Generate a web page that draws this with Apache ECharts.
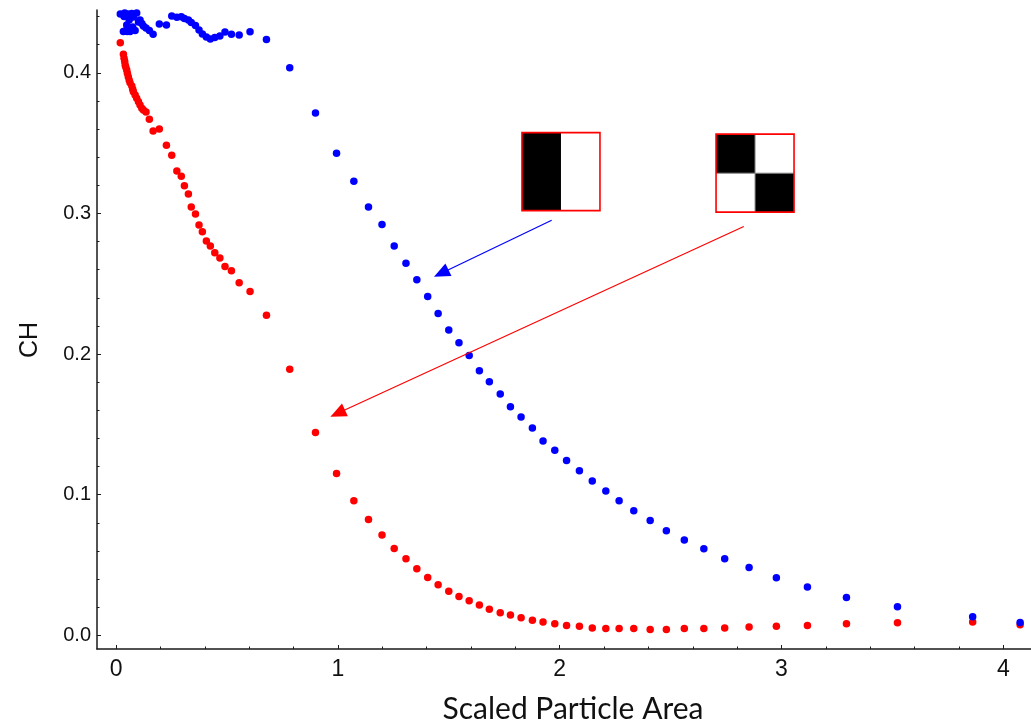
<!DOCTYPE html>
<html>
<head>
<meta charset="utf-8">
<script src="https://cdn.jsdelivr.net/npm/echarts@6/dist/echarts.min.js"></script>
<style>
  html, body { margin: 0; padding: 0; background: #ffffff; }
  #chart { width: 1031px; height: 725px; }
</style>
</head>
<body>
<div id="chart"></div>
<script>
// Scaled particle area, shared by both measurement series
const area = [
  0.019, 0.033, 0.036, 0.039, 0.041, 0.044, 0.048, 0.051, 0.055, 0.059,
  0.063, 0.071, 0.075, 0.078, 0.086, 0.093, 0.101, 0.108, 0.116, 0.123,
  0.135, 0.150, 0.167, 0.195, 0.227, 0.251, 0.274, 0.294, 0.308, 0.326,
  0.339, 0.358, 0.374, 0.389, 0.407, 0.425, 0.445, 0.468, 0.491, 0.520,
  0.555, 0.604, 0.678, 0.783, 0.899, 0.994, 1.072, 1.138, 1.199, 1.254,
  1.307, 1.356, 1.405, 1.452, 1.500, 1.546, 1.592, 1.638, 1.683, 1.732,
  1.778, 1.826, 1.877, 1.925, 1.978, 2.031, 2.089, 2.147, 2.208, 2.268,
  2.334, 2.408, 2.481, 2.562, 2.650, 2.744, 2.854, 2.977, 3.117, 3.293,
  3.523, 3.862, 4.076
];

// CH for the two-stripe pattern (blue)
const chStripe = [
  0.4419, 0.4294, 0.4401, 0.4426, 0.4298, 0.4408, 0.4340, 0.4294, 0.4419, 0.4376,
  0.4294, 0.4422, 0.4326, 0.4397, 0.4301, 0.4426, 0.4362, 0.4376, 0.4351, 0.4333,
  0.4319, 0.4301, 0.4274, 0.4348, 0.4340, 0.4404, 0.4395, 0.4399, 0.4387, 0.4376,
  0.4358, 0.4337, 0.4305, 0.4277, 0.4255, 0.4241, 0.4252, 0.4262, 0.4291, 0.4274,
  0.4269, 0.4293, 0.4237, 0.4037, 0.3715, 0.3429, 0.3230, 0.3047, 0.2921, 0.2768,
  0.2647, 0.2528, 0.2409, 0.2289, 0.2171, 0.2080, 0.1990, 0.1881, 0.1803, 0.1716,
  0.1625, 0.1552, 0.1474, 0.1382, 0.1316, 0.1244, 0.1171, 0.1097, 0.1026, 0.0957,
  0.0886, 0.0817, 0.0744, 0.0678, 0.0616, 0.0545, 0.0483, 0.0410, 0.0344, 0.0270,
  0.0204, 0.0133, 0.0092
];

// CH for the checkerboard pattern (red)
const chChecker = [
  0.4215, 0.4132, 0.4104, 0.4080, 0.4056, 0.4040, 0.4021, 0.3997, 0.3973, 0.3950,
  0.3930, 0.3907, 0.3883, 0.3866, 0.3843, 0.3819, 0.3795, 0.3772, 0.3748, 0.3736,
  0.3722, 0.3670, 0.3587, 0.3601, 0.3485, 0.3414, 0.3303, 0.3265, 0.3198, 0.3139,
  0.3047, 0.2997, 0.2919, 0.2871, 0.2805, 0.2768, 0.2720, 0.2684, 0.2623, 0.2592,
  0.2507, 0.2445, 0.2277, 0.1893, 0.1443, 0.1151, 0.0957, 0.0824, 0.0714, 0.0618,
  0.0545, 0.0474, 0.0412, 0.0360, 0.0313, 0.0277, 0.0247, 0.0216, 0.0185, 0.0161,
  0.0145, 0.0126, 0.0107, 0.0095, 0.0083, 0.0071, 0.0064, 0.0053, 0.0048, 0.0048,
  0.0048, 0.0041, 0.0041, 0.0048, 0.0048, 0.0053, 0.0060, 0.0064, 0.0071, 0.0083,
  0.0090, 0.0095, 0.0076
];

// Axis ticks
const xMajorTicks = [0, 1, 2, 3, 4];
const xMinorTicks = [0.2, 0.4, 0.6, 0.8, 1.2, 1.4, 1.6, 1.8, 2.2, 2.4, 2.6, 2.8,
                     3.2, 3.4, 3.6, 3.8, 4.0];
const yMajorTicks = [0, 0.1, 0.2, 0.3, 0.4];
const yMinorTicks = [0.02, 0.04, 0.06, 0.08, 0.12, 0.14, 0.16, 0.18, 0.22, 0.24,
                     0.26, 0.28, 0.32, 0.34, 0.36, 0.38, 0.42, 0.44];

// Annotation arrows: [start, arrow head centre] in data units
const stripeArrow = [[1.964, 0.2952], [1.466, 0.2575]];
const checkerArrow = [[2.830, 0.2907], [0.999, 0.1579]];
// Top-left corners of the pattern insets, in data units
const stripeInsetAt = [1.830, 0.3575];
const checkerInsetAt = [2.705, 0.3564];

const X_RANGE = [-0.086, 4.125];
const Y_RANGE = [-0.0097, 0.4447];

const chart = echarts.init(document.getElementById('chart'), null, { renderer: 'canvas' });

const axisCommon = {
  type: 'value',
  splitLine: { show: false },
  minorTick: { show: false },
  minorSplitLine: { show: false }
};

function pairs(ys) {
  return area.map((x, i) => [x, ys[i]]);
}

function arrowLine(pts, color) {
  return {
    silent: true,
    animation: false,
    symbolSize: [14, 16],
    label: { show: false },
    emphasis: { disabled: true },
    itemStyle: { color: color, opacity: 1 },
    lineStyle: { color: color, width: 1.2, type: 'solid', opacity: 1 },
    data: [[
      { coord: pts[0], symbol: 'none' },
      { coord: pts[1], symbol: 'triangle' }
    ]]
  };
}

chart.setOption({
  animation: false,
  backgroundColor: '#ffffff',
  grid: { left: 97, right: 0, top: 10, bottom: 76 },
  xAxis: [
    Object.assign({}, axisCommon, {
      min: X_RANGE[0], max: X_RANGE[1],
      position: 'bottom',
      axisLine: { show: true, onZero: false, lineStyle: { color: '#1a1a1a', width: 1.5 } },
      axisTick: { show: true, inside: true, length: 4, customValues: xMajorTicks,
                  lineStyle: { color: '#1a1a1a', width: 1 } },
      axisLabel: { show: true, customValues: xMajorTicks, margin: 9,
                   fontFamily: 'Liberation Sans, Arial, sans-serif', fontSize: 23, color: '#111',
                   formatter: v => String(v) }
    }),
    Object.assign({}, axisCommon, {
      min: X_RANGE[0], max: X_RANGE[1],
      position: 'bottom',
      axisLine: { show: false, onZero: false },
      axisTick: { show: true, inside: true, length: 2.5, customValues: xMinorTicks,
                  lineStyle: { color: '#1a1a1a', width: 1 } },
      axisLabel: { show: false }
    })
  ],
  yAxis: [
    Object.assign({}, axisCommon, {
      min: Y_RANGE[0], max: Y_RANGE[1],
      position: 'left',
      axisLine: { show: true, onZero: false, lineStyle: { color: '#1a1a1a', width: 1.5 } },
      axisTick: { show: true, inside: true, length: 4, customValues: yMajorTicks,
                  lineStyle: { color: '#1a1a1a', width: 1 } },
      axisLabel: { show: true, customValues: yMajorTicks, margin: 6,
                   fontFamily: 'Liberation Sans, Arial, sans-serif', fontSize: 20, color: '#111',
                   formatter: v => v.toFixed(1) }
    }),
    Object.assign({}, axisCommon, {
      min: Y_RANGE[0], max: Y_RANGE[1],
      position: 'left',
      axisLine: { show: false, onZero: false },
      axisTick: { show: true, inside: true, length: 2.5, customValues: yMinorTicks,
                  lineStyle: { color: '#1a1a1a', width: 1 } },
      axisLabel: { show: false }
    })
  ],
  series: [
    {
      name: 'Checkerboard',
      type: 'scatter',
      xAxisIndex: 0, yAxisIndex: 0,
      symbol: 'circle',
      symbolSize: 7.5,
      clip: false,
      itemStyle: { color: '#ff0000', opacity: 1 },
      emphasis: { disabled: true },
      data: pairs(chChecker),
      markLine: arrowLine(checkerArrow, '#ff0000')
    },
    {
      name: 'Two stripes',
      type: 'scatter',
      xAxisIndex: 0, yAxisIndex: 0,
      symbol: 'circle',
      symbolSize: 7.5,
      clip: false,
      itemStyle: { color: '#0000ff', opacity: 1 },
      emphasis: { disabled: true },
      data: pairs(chStripe),
      markLine: arrowLine(stripeArrow, '#0000ff')
    }
  ]
});

// Pattern insets and axis titles
const INSET = 78;
const half = INSET / 2;
const p1 = chart.convertToPixel({ gridIndex: 0 }, stripeInsetAt);
const p2 = chart.convertToPixel({ gridIndex: 0 }, checkerInsetAt);

chart.setOption({
  graphic: [
    // two-stripe pattern
    { type: 'rect', shape: { x: p1[0], y: p1[1], width: INSET, height: INSET },
      style: { fill: '#ffffff' }, silent: true },
    { type: 'rect', shape: { x: p1[0], y: p1[1], width: half, height: INSET },
      style: { fill: '#000000' }, silent: true },
    { type: 'rect', shape: { x: p1[0], y: p1[1], width: INSET, height: INSET },
      style: { fill: null, stroke: '#ff0000', lineWidth: 1.6 }, silent: true },
    // checkerboard pattern
    { type: 'rect', shape: { x: p2[0], y: p2[1], width: INSET, height: INSET },
      style: { fill: '#ffffff' }, silent: true },
    { type: 'rect', shape: { x: p2[0], y: p2[1], width: half, height: half },
      style: { fill: '#000000' }, silent: true },
    { type: 'rect', shape: { x: p2[0] + half, y: p2[1] + half, width: half, height: half },
      style: { fill: '#000000' }, silent: true },
    { type: 'line', shape: { x1: p2[0] + half, y1: p2[1], x2: p2[0] + half, y2: p2[1] + INSET },
      style: { stroke: '#888888', lineWidth: 1 }, silent: true },
    { type: 'line', shape: { x1: p2[0], y1: p2[1] + half, x2: p2[0] + INSET, y2: p2[1] + half },
      style: { stroke: '#888888', lineWidth: 1 }, silent: true },
    { type: 'rect', shape: { x: p2[0], y: p2[1], width: INSET, height: INSET },
      style: { fill: null, stroke: '#ff0000', lineWidth: 1.6 }, silent: true },
    // axis titles
    { type: 'text', x: 573, y: 709,
      style: { text: 'Scaled Particle Area', fontFamily: 'Lato, sans-serif', fontSize: 30,
               fill: '#111', align: 'center', verticalAlign: 'middle' }, silent: true },
    { type: 'text', x: 30, y: 340, rotation: Math.PI / 2,
      style: { text: 'CH', fontFamily: 'Liberation Sans, Arial, sans-serif', fontSize: 25,
               fill: '#111', align: 'center', verticalAlign: 'middle' }, silent: true }
  ]
});
</script>
</body>
</html>
